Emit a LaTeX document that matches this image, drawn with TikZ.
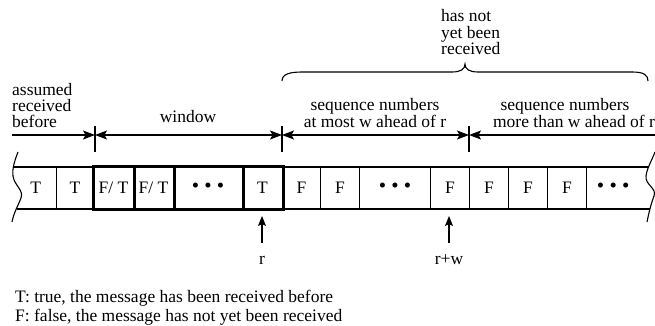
\documentclass[tikz,border=0pt]{standalone}
\usepackage{fontspec}
\setmainfont{Liberation Serif}
\usetikzlibrary{arrows.meta}
\begin{document}
\begin{tikzpicture}[x=1pt,y=-1pt,
  every node/.style={font=\fontsize{17.5}{20}\selectfont, inner sep=0pt},
  cell/.style={draw, line width=1.1pt, minimum height=42pt, anchor=west},
  open/.style={minimum height=42pt, anchor=west},
  thin/.style={line width=1.1pt},
  thickbox/.style={line width=3pt},
  dots/.style={font=\fontsize{21}{20}\selectfont},
  dimtip/.style={-{Stealth[length=12pt,width=9pt,inset=2.5pt]}, line width=1.1pt},
  dimboth/.style={{Stealth[length=12pt,width=9pt,inset=2.5pt]}-{Stealth[length=12pt,width=9pt,inset=2.5pt]}, line width=1.1pt},
  uparrow/.style={-{Stealth[length=10pt,width=8pt,inset=2pt]}, line width=1.1pt},
  lbl/.style={anchor=base west},
  clbl/.style={anchor=base},
  stackl/.style={align=left, font=\fontsize{17.5}{16}\selectfont},
  stackc/.style={align=center, font=\fontsize{17.5}{15.5}\selectfont}]
\useasboundingbox (0,0) rectangle (655,326);
% tape cells
\node[open, minimum width=41pt] (c0) at (15,188) {T};
\node[cell, minimum width=37pt] (c1) at (56,188) {T};
\node[cell, minimum width=40pt] (c2) at (93,188) {F/ T};
\node[cell, minimum width=40pt] (c3) at (133,188) {F/ T};
\node[cell, dots, minimum width=69pt] (c4) at (173,188) {• • •};
\node[cell, minimum width=40pt] (c5) at (242,188) {T};
\node[cell, minimum width=38pt] (c6) at (282,188) {F};
\node[cell, minimum width=39pt] (c7) at (320,188) {F};
\node[cell, dots, minimum width=71pt] (c8) at (359,188) {• • •};
\node[cell, minimum width=39pt] (c9) at (430,188) {F};
\node[cell, minimum width=39pt] (c10) at (469,188) {F};
\node[cell, minimum width=39pt] (c11) at (508,188) {F};
\node[cell, minimum width=39pt] (c12) at (547,188) {F};
\node[open, dots, minimum width=54pt] (c13) at (586,188) {• • •};
% tape outer lines
\draw[thin] (13,167) -- (648,167);
\draw[thin] (17,209) -- (650,209);
% torn edges
\draw[thin] (18,152) .. controls (15,160) and (12,168) .. (13,176)
  .. controls (14,185) and (24,190) .. (21,198)
  .. controls (18,206) and (14,212) .. (12,222);
\draw[thin] (655,152) .. controls (652,160) and (647,168) .. (646,176)
  .. controls (645,185) and (657,188) .. (654,196)
  .. controls (651,204) and (649,212) .. (647,222);
% window thick box
\draw[thickbox] (c2.north west) rectangle (c5.south east);
\draw[thickbox] (c2.north east) -- (c2.south east);
\draw[thickbox] (c3.north east) -- (c3.south east);
\draw[thickbox] (c4.north east) -- (c4.south east);
% dimension line
\coordinate (d0) at (12,135);
\coordinate (t1) at (95,135);
\coordinate (t2) at (282,135);
\coordinate (t3) at (469,135);
\coordinate (d4) at (655,135);
\draw[thin] (95,126) -- (95,152);
\draw[thin] (282,126) -- (282,152);
\draw[thin] (469,126) -- (469,152);
\draw[dimtip] (d0) -- (t1);
\draw[dimboth] (t1) -- (t2);
\draw[dimboth] (t2) -- (t3);
\draw[dimtip] (d4) -- (t3);
% labels above
\node[stackl, anchor=south west] (a) at (12,127.5) {assumed\\received\\before};
\node[clbl] (win) at (188,122) {window};
\node[stackc, anchor=south] (s) at (375,127.5) {sequence numbers\\at most w ahead of r};
\node[stackc, anchor=south] (m) at (574,127.5) {\hspace*{-18pt}sequence numbers\\more than w ahead of r};
\node[stackl, anchor=south west] (h) at (441,55) {has not\\[0.5pt]yet been\\[0.5pt]received};
% brace
\draw[thin] (282,81) .. controls (282,74) and (290,72) .. (302,72) -- (452,72)
  .. controls (461,72) and (465,69) .. (465,64)
  .. controls (465,69) and (469,72) .. (478,72) -- (632,72)
  .. controls (644,72) and (648,75) .. (648,81);
% pointers
\node[clbl] (r) at (262,264) {r};
\node[clbl] (rw) at (449,264) {r+w};
\coordinate (rb) at (262,243);
\coordinate (rt) at (262,216);
\coordinate (wb) at (449,243);
\coordinate (wt) at (449,216);
\draw[uparrow] (rb) -- (rt);
\draw[uparrow] (wb) -- (wt);
% legend
\node[lbl] (l1) at (15,302) {T: true, the message has been received before};
\node[lbl] (l2) at (15,321) {F: false, the message has not yet been received};
\end{tikzpicture}
\end{document}
